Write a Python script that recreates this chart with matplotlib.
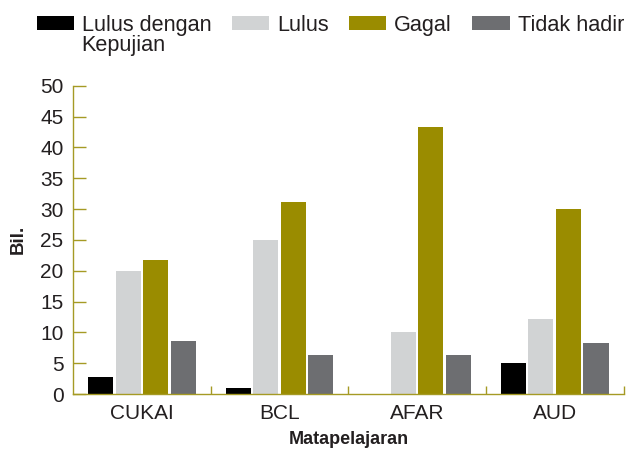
import numpy as np
import matplotlib
matplotlib.use("Agg")
import matplotlib.pyplot as plt
from matplotlib.ticker import FixedLocator

plt.rcParams["font.family"] = ["Liberation Sans", "DejaVu Sans"]

# data
subjects = ["CUKAI", "BCL", "AFAR", "AUD"]
series_names = ["Lulus dengan\nKepujian", "Lulus", "Gagal", "Tidak hadir"]
lulus_kepujian = [2.7, 1.0, 0.0, 5.0]
lulus = [20.0, 25.0, 10.0, 12.1]
gagal = [21.7, 31.1, 43.3, 30.0]
tidak_hadir = [8.6, 6.3, 6.3, 8.2]
colours = ["#000000", "#d1d3d4", "#9a8c00", "#6d6e71"]

axis_col = "#a59a24"
text_col = "#231f20"

fig = plt.figure(figsize=(6.3, 4.5), dpi=100)
ax = fig.add_axes([0.1163, 0.1244, 0.8734, 0.6852])

x = np.arange(len(subjects))
step = 0.2
width = 0.182
all_series = [lulus_kepujian, lulus, gagal, tidak_hadir]
handles = []
for i, vals in enumerate(all_series):
    b = ax.bar(x + (i - 1.5) * step, vals, width=width, color=colours[i])
    handles.append(b)

ax.set_xlim(-0.5, len(subjects) - 0.5)
ax.set_ylim(0, 50)
ax.set_yticks(np.arange(0, 51, 5))
ax.set_xticks(x)
ax.set_xticklabels(subjects)
ax.xaxis.set_minor_locator(FixedLocator(np.arange(0.5, len(subjects), 1.0)))

for side in ["top", "right"]:
    ax.spines[side].set_visible(False)
for side in ["left", "bottom"]:
    ax.spines[side].set_color(axis_col)
    ax.spines[side].set_linewidth(1.0)

ax.tick_params(axis="y", direction="in", length=9.6, width=1.0, color=axis_col,
               labelsize=15, labelcolor=text_col, pad=7)
ax.tick_params(axis="x", which="major", length=0, labelsize=15,
               labelcolor=text_col, pad=7)
ax.tick_params(axis="x", which="minor", direction="in", length=6, width=1.0,
               color=axis_col)

ax.set_xlabel("Matapelajaran", fontsize=13, fontweight="bold", color=text_col,
              labelpad=6)
ax.set_ylabel("Bil.", fontsize=13.5, fontweight="bold", color=text_col, labelpad=10)

# legend, first label split so the handle sits on the first line
labels = [series_names[0].split("\n")[0]] + series_names[1:]
leg = fig.legend(handles, labels, loc="upper left", bbox_to_anchor=(0.058, 0.967),
                 ncol=4, frameon=False, fontsize=15.6, handlelength=1.72,
                 handleheight=0.58, handletextpad=0.36, columnspacing=0.95,
                 borderpad=0, borderaxespad=0)
for t in leg.get_texts():
    t.set_color(text_col)
fig.canvas.draw()
ax.annotate(series_names[0].split("\n")[1], xy=(0, 0), xycoords=leg.get_texts()[0],
            xytext=(0, -14.8), textcoords="offset points", ha="left", va="bottom",
            fontsize=15.6, color=text_col, annotation_clip=False)

fig.savefig("out.png", dpi=100)
